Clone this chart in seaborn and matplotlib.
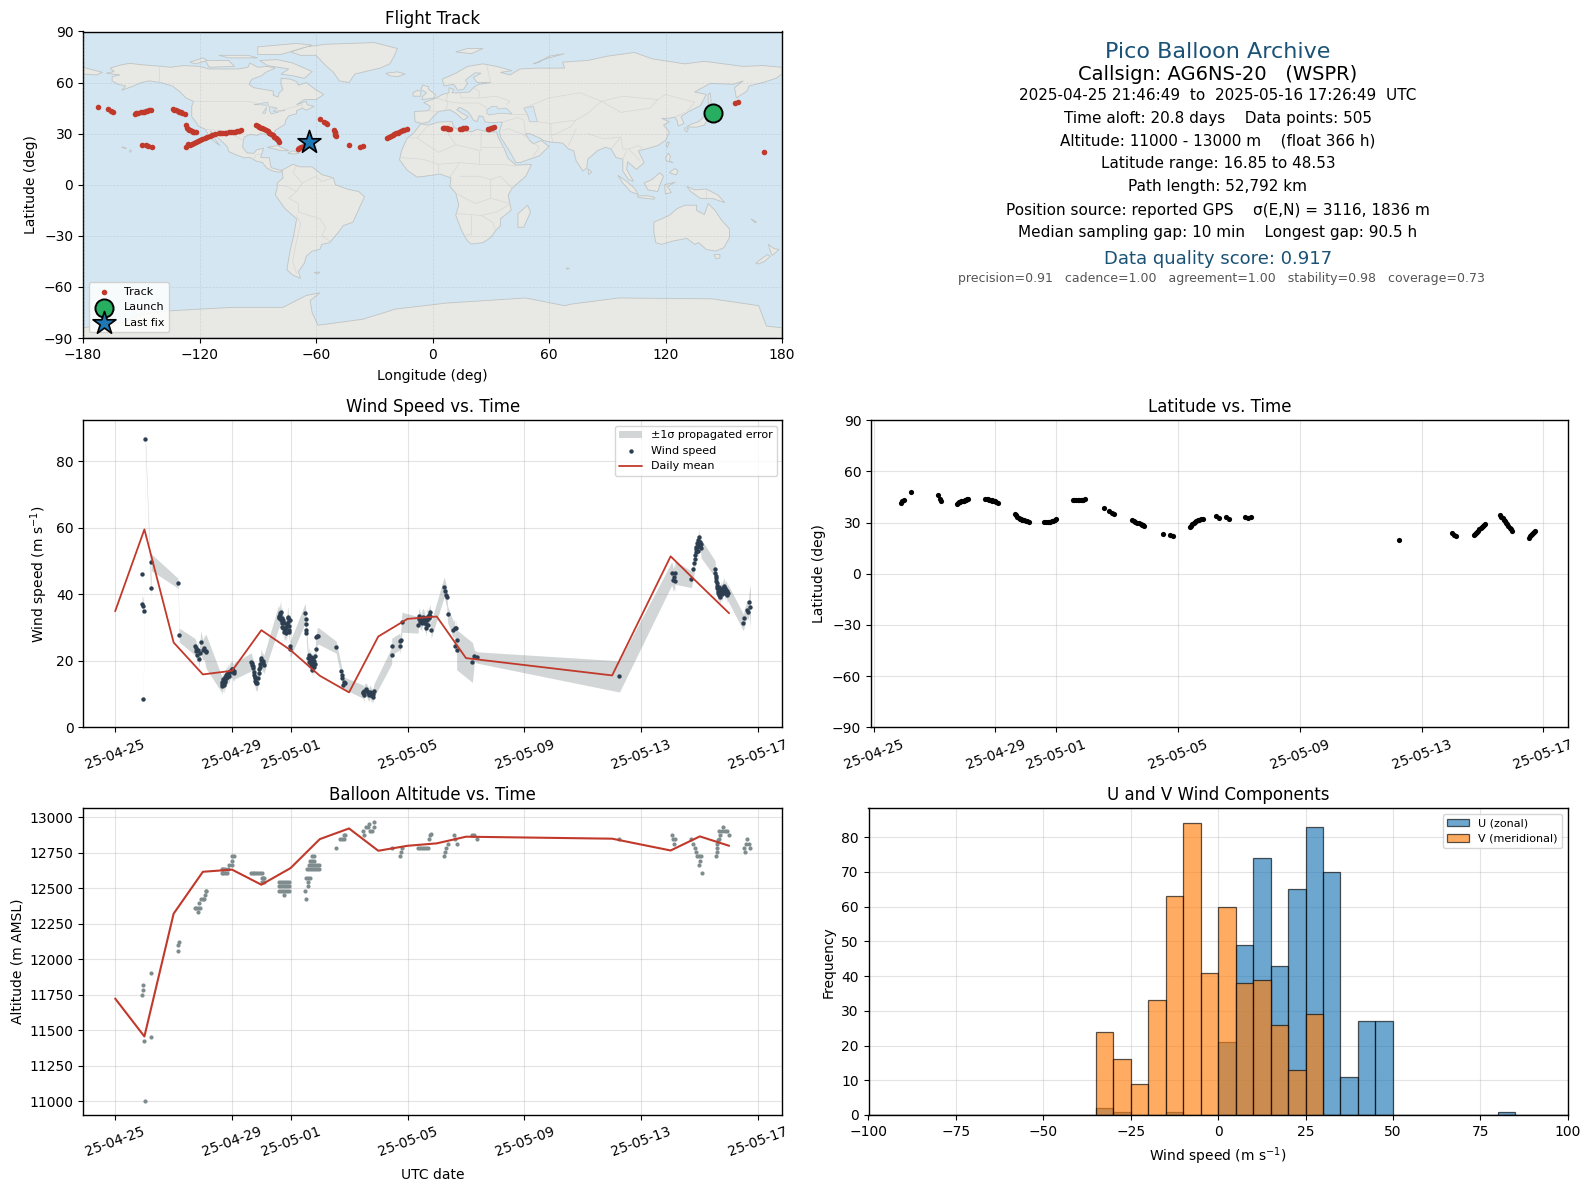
"""Pico balloon flight summary: track map, wind, latitude, altitude, U/V histogram."""
import matplotlib
matplotlib.use("Agg")
import matplotlib.dates as mdates
import matplotlib.pyplot as plt
import numpy as np
import pandas as pd
import seaborn as sns
from matplotlib.patches import Polygon

FIG_W, FIG_H = 1589, 1189
RED = "#c0392b"
NAVY = "#1a5276"
SLATE = "#2c3e50"
GREY = "#7f8c8d"
OCEAN = "#d4e6f1"
LAND = "#e8e8e4"
COAST = "#bfc4c4"

START = pd.Timestamp("2025-04-25")
tick_dates = pd.to_datetime(["2025-04-25", "2025-04-29", "2025-05-01", "2025-05-05",
                             "2025-05-09", "2025-05-13", "2025-05-17"])

# --- flight track (lon, lat)
track_lon = [-172.5, -166.9, -165.7, -164.8,
             -153.1, -151.9, -150.2, -148.5, -146.8, -145.1,
             -149.7, -147.6, -146.3, -144.7,
             -133.9, -132.2, -130.5, -128.8, -127.7,
             -126.7, -126.2, -125.3, -124.1, -122.7, -121.7,
             -126.7, -124.8, -122.7, -120.7, -118.5, -115.9, -113.6,
             -110.2, -108.2, -106.1, -103.9, -101.8, -99.9, -98.7,
             -91.0, -89.3, -87.6, -85.8, -84.1, -82.4, -80.7, -79.5, -79.0,
             -69.5, -67.8, -66.1, -64.4,
             -57.9, -55.8, -54.4, -50.6, -50.3, -49.8,
             -42.9, -37.4, -36.0,
             -23.2, -21.5, -19.7, -18.0, -16.3, -14.6, -12.9,
             5.5, 6.4, 7.6, 8.9, 14.4, 15.8, 17.5, 28.5, 29.9, 31.6,
             155.7, 157.4, 170.8,
             -125.7, -123.7, -121.7, -119.6, -117.2, -114.7, -112.0,
             -109.2, -107.1, -105.0, -102.8, -100.8,
             -90.1, -88.4, -86.7, -84.9, -83.2, -81.5, -80.1,
             -22.3, -20.6, -18.8, -17.1, -15.4,
             -152.5, -149.3, -147.6, -145.9,
             -133.0, -131.3, -129.6, -125.8, -124.7, -123.4,
             -68.6, -67.0, -65.2,
             -55.1, -50.4, -50.0,
             6.0, 8.2, 15.1, 16.6, 29.2, 30.8]
track_lat = [45.9, 44.3, 43.1, 42.7,
             41.8, 42.2, 42.5, 42.9, 43.3, 44.1,
             23.5, 23.1, 22.5, 22.4,
             44.3, 43.7, 42.9, 42.2, 41.6,
             35.1, 33.5, 32.4, 31.4, 31.0, 30.8,
             22.4, 23.1, 24.5, 25.7, 26.9, 28.0, 29.2,
             30.4, 30.4, 30.6, 30.8, 31.2, 31.8, 32.4,
             34.9, 34.1, 33.1, 32.0, 30.6, 29.0, 27.5, 26.1, 25.1,
             21.2, 22.0, 22.7, 23.7,
             38.8, 36.9, 35.9, 32.0, 30.4, 28.4,
             23.5, 22.4, 22.9,
             27.6, 28.8, 29.6, 30.6, 31.6, 32.2, 32.5,
             33.5, 33.5, 33.1, 32.9, 32.9, 33.1, 33.1, 32.7, 33.3, 33.7,
             48.2, 48.5, 19.4,
             23.8, 23.8, 25.1, 26.3, 27.4, 28.6, 29.7,
             30.4, 30.5, 30.7, 31.0, 31.5,
             34.5, 33.6, 32.6, 31.3, 29.8, 28.2, 26.8,
             28.2, 29.2, 30.1, 31.1, 31.9,
             42.0, 42.7, 43.1, 43.7,
             44.0, 43.3, 42.5, 33.0, 31.9, 31.2,
             21.6, 22.3, 23.2,
             36.4, 31.2, 29.4,
             33.4, 33.0, 33.0, 33.1, 33.0, 33.5]
launch_lon, launch_lat = [144.7], [42.0]
last_lon, last_lat = [-63.5], [25.3]

# --- wind speed samples: day since 04-25, m/s, propagated 1-sigma
wind_day = [0.92, 0.92, 0.96, 0.99, 0.96, 1.03, 1.24, 1.22, 2.15, 2.19,
            2.72, 2.75, 2.78, 2.81, 2.87, 2.93, 2.99, 3.05, 3.10, 3.12, 2.82, 2.89,
            3.64, 3.69, 3.72, 3.75, 3.78, 3.80, 3.86, 3.92, 3.98, 4.03, 4.08, 3.65, 3.71, 3.77, 3.83, 3.89,
            4.66, 4.68, 4.72, 4.75, 4.79, 4.81, 4.83, 4.88, 4.91, 4.95, 4.99, 5.04, 5.08, 4.98,
            5.59, 5.63, 5.66, 5.70, 5.72, 5.77, 5.80, 5.86, 5.90, 5.92, 5.95, 5.97, 5.65, 5.74, 5.83,
            5.98, 5.99,
            6.50, 6.53, 6.53, 6.53, 6.54,
            6.60, 6.63, 6.66, 6.71, 6.77, 6.79, 6.83, 6.86, 6.75, 6.69,
            6.86, 6.91, 6.95,
            7.56,
            7.73, 7.75, 7.77, 7.82, 7.86, 7.80,
            8.48, 8.50, 8.57, 8.65, 8.71, 8.76, 8.82, 8.85, 8.80,
            9.46, 9.46, 9.74, 9.74, 9.77, 9.81,
            10.36, 10.41, 10.45, 10.48, 10.53, 10.58, 10.62, 10.64, 10.69, 10.72, 10.76, 10.81, 10.66,
            11.25, 11.29, 11.32, 11.34, 11.37, 11.57, 11.61, 11.65, 11.68, 11.63, 11.68,
            12.22, 12.29, 12.37, 17.25,
            19.04, 19.09, 19.12, 19.15, 19.14,
            19.71, 19.78, 19.81, 19.83, 19.87, 19.89, 19.91, 19.95, 19.98, 20.01, 20.04, 19.87,
            20.52, 20.53, 20.55, 20.58, 20.60, 20.63, 20.67, 20.69, 20.72, 20.78, 20.83, 20.87, 20.92, 20.96, 20.64,
            21.49, 21.52, 21.60, 21.65, 21.69, 21.73,
            3.66, 3.68, 3.70, 3.73, 3.76, 3.79, 3.82, 3.84, 3.88, 3.94, 4.00, 4.05,
            4.67, 4.70, 4.74, 4.77, 4.80, 4.85, 4.93, 4.97, 5.02, 5.06,
            5.60, 5.62, 5.64, 5.68, 5.71, 5.75, 5.78, 5.82, 5.88, 5.91, 5.94, 5.96,
            6.62, 6.65, 6.68, 6.70, 6.73, 6.78, 6.81, 6.84, 6.74,
            8.49, 8.52, 8.62, 8.68, 8.74, 8.79, 8.83,
            10.38, 10.43, 10.50, 10.55, 10.60, 10.67, 10.70, 10.74, 10.78,
            19.85, 19.88, 19.92, 19.94, 19.97, 20.00, 20.03,
            20.54, 20.56, 20.59, 20.61, 20.65, 20.70, 20.74, 20.76, 20.80, 20.85, 20.90, 20.94]
wind_speed = [46.0, 37.0, 36.4, 34.9, 8.4, 86.6, 49.6, 41.8, 43.3, 27.7,
              24.3, 23.8, 22.8, 21.8, 20.5, 25.6, 23.3, 23.8, 23.0, 22.6, 23.3, 22.3,
              13.0, 13.7, 12.7, 14.2, 14.7, 15.7, 16.2, 16.7, 17.4, 16.7, 17.0, 13.5, 13.2, 13.6, 15.0, 15.5,
              19.7, 18.7, 17.7, 15.7, 14.7, 13.2, 13.7, 14.7, 16.4, 18.2, 20.7, 19.2, 18.8, 20.2,
              33.3, 34.3, 34.8, 32.8, 30.3, 31.3, 29.3, 28.5, 33.3, 31.8, 28.8, 32.3, 32.8, 32.3, 30.3,
              24.3, 23.5,
              34.3, 32.5, 31.0, 29.3, 28.3,
              20.8, 21.8, 19.7, 19.2, 20.8, 18.2, 21.3, 23.5, 17.2, 21.2,
              27.0, 27.3, 27.5,
              24.1,
              17.0, 15.7, 14.7, 13.7, 13.2, 12.7,
              10.7, 9.7, 11.4, 10.2, 10.7, 9.7, 9.2, 11.0, 10.4,
              24.3, 21.6, 24.3, 25.8, 26.3, 31.6,
              30.8, 33.5, 32.3, 31.3, 33.3, 32.0, 31.0, 29.8, 32.8, 33.8, 34.6, 29.3, 32.3,
              42.1, 41.0, 39.8, 39.3, 34.0, 29.3, 30.0, 30.0, 26.3, 24.5, 23.3,
              19.5, 21.5, 21.0, 15.3,
              46.3, 44.3, 45.3, 46.5, 44.0,
              44.5, 47.5, 49.3, 51.8, 52.8, 54.3, 55.3, 56.3, 57.3, 55.8, 53.8, 54.3,
              47.6, 46.3, 44.8, 43.3, 41.8, 40.3, 41.0, 39.3, 40.8, 41.3, 42.5, 41.8, 41.0, 40.5, 42.2,
              31.5, 32.8, 35.3, 34.8, 37.6, 36.3,
              12.3, 13.2, 14.4, 14.0, 15.0, 15.2, 16.0, 15.0, 16.5, 17.0, 17.5, 16.2,
              19.2, 18.3, 16.5, 15.2, 14.0, 13.3, 17.5, 19.0, 20.0, 19.8,
              32.8, 33.5, 33.8, 32.3, 31.5, 30.0, 28.8, 29.5, 31.0, 33.0, 30.5, 29.3,
              19.5, 20.8, 20.5, 18.7, 20.2, 19.3, 20.0, 19.0, 18.3,
              10.2, 10.8, 10.8, 9.8, 10.3, 9.6, 10.0,
              32.6, 31.8, 32.8, 33.0, 31.3, 33.3, 30.8, 33.0, 33.5,
              50.5, 53.5, 54.5, 53.0, 55.5, 54.5, 55.0,
              45.5, 44.0, 42.5, 41.0, 39.8, 40.3, 41.5, 40.2, 42.0, 40.5, 41.3, 39.8]
wind_sigma = [4.0, 3.0, 2.0, 2.0, 1.3, 2.0, 2.5, 2.5, 1.5, 2.1,
              2.5, 2.5, 2.5, 2.5, 2.5, 3.5, 3.0, 3.5, 5.0, 5.0, 2.5, 2.5,
              2.5, 2.5, 2.5, 2.5, 2.5, 2.5, 2.5, 2.5, 2.5, 2.5, 2.5, 2.5, 2.5, 2.5, 2.5, 2.5,
              2.7, 2.7, 2.7, 2.7, 2.5, 2.3, 2.3, 2.3, 2.5, 2.7, 2.7, 2.7, 2.7, 2.7,
              3.5, 3.5, 3.5, 3.5, 3.0, 3.0, 3.0, 3.0, 3.0, 3.0, 3.0, 3.0, 3.0, 3.0, 3.0,
              2.5, 2.5,
              3.0, 3.0, 3.0, 3.0, 2.5,
              2.5, 2.5, 2.5, 2.5, 2.5, 2.5, 2.5, 2.5, 2.5, 2.5,
              2.5, 2.5, 2.5,
              1.8,
              1.8, 1.8, 1.8, 1.8, 1.8, 1.8,
              2.0, 2.5, 2.0, 2.0, 2.0, 2.0, 2.0, 2.0, 2.0,
              2.5, 2.5, 2.5, 2.5, 2.5, 3.0,
              2.5, 2.5, 2.5, 2.5, 2.5, 2.5, 2.5, 2.5, 2.5, 2.5, 2.5, 2.5, 2.5,
              3.0, 3.0, 3.0, 3.0, 2.5, 2.5, 2.5, 2.5, 2.5, 3.0, 6.0,
              6.0, 1.7, 1.7, 4.7,
              3.5, 3.5, 3.5, 3.5, 3.5,
              2.5, 2.5, 2.5, 2.5, 2.5, 2.5, 2.5, 2.5, 2.5, 2.5, 2.8, 2.5,
              2.5, 2.5, 2.5, 2.5, 2.5, 2.5, 2.5, 2.5, 2.5, 2.5, 2.5, 2.5, 2.5, 2.5, 2.5,
              2.5, 2.5, 2.5, 2.5, 3.5, 6.5,
              2.5, 2.5, 2.5, 2.5, 2.5, 2.5, 2.5, 2.5, 2.5, 2.5, 2.5, 2.5,
              2.7, 2.7, 2.7, 2.7, 2.7, 2.7, 2.7, 2.7, 2.7, 2.7,
              3.0, 3.0, 3.0, 3.0, 3.0, 3.0, 3.0, 3.0, 3.0, 3.0, 3.0, 3.0,
              2.5, 2.5, 2.5, 2.5, 2.5, 2.5, 2.5, 2.5, 2.5,
              2.0, 2.0, 2.0, 2.0, 2.0, 2.0, 2.0,
              2.5, 2.5, 2.5, 2.5, 2.5, 2.5, 2.5, 2.5, 2.5,
              2.5, 2.5, 2.5, 2.5, 2.5, 2.5, 2.5,
              2.5, 2.5, 2.5, 2.5, 2.5, 2.5, 2.5, 2.5, 2.5, 2.5, 2.5, 2.5]

# --- daily means (days since 04-25)
mean_day = [0, 1, 2, 3, 4, 5, 6, 7, 8, 9, 10, 11, 12, 17, 19, 20, 21]
mean_wind = [34.9, 59.5, 25.5, 15.9, 17.0, 29.2, 23.2, 15.5, 10.5, 27.3, 32.6, 33.3, 20.8, 15.6, 51.4, 42.8, 34.3]
mean_alt = [11722, 11455, 12320, 12615, 12630, 12524, 12641, 12845, 12920, 12763, 12798, 12815, 12862,
            12848, 12765, 12864, 12798]

# --- latitude samples
lat_day = [0.89, 0.93, 0.99, 1.22, 2.12, 2.17, 2.20,
           2.73, 2.80, 2.88, 2.95, 3.03, 3.10,
           3.67, 3.75, 3.83, 3.90, 3.98, 4.07,
           4.65, 4.71, 4.80, 4.88, 4.95, 5.05, 5.09,
           5.60, 5.71, 5.80, 5.89, 5.98,
           6.54, 6.64, 6.75, 6.84, 6.93,
           7.55, 7.73, 7.82, 7.88,
           8.49, 8.60, 8.72, 8.81, 8.87,
           9.50, 9.74, 9.83,
           10.38, 10.47, 10.56, 10.65, 10.75, 10.81,
           11.25, 11.34, 11.58, 11.66,
           12.21, 12.30, 12.38,
           17.27,
           19.00, 19.08, 19.14,
           19.71, 19.79, 19.86, 19.94, 20.02, 20.08,
           20.57, 20.66, 20.74, 20.81, 20.89, 20.98,
           21.52, 21.60, 21.67, 21.74,
           2.76, 2.84, 2.92, 3.00, 3.07, 3.71, 3.79, 3.87, 3.94, 4.03,
           4.68, 4.76, 4.84, 4.92, 5.00, 5.65, 5.76, 5.85, 5.94,
           6.59, 6.70, 6.80, 6.89, 8.54, 8.66, 8.77, 8.84,
           10.42, 10.52, 10.60, 10.70, 19.75, 19.82, 19.90, 19.98, 20.05,
           20.61, 20.70, 20.78, 20.85, 20.94, 21.56, 21.63, 21.70]
lat_deg = [41.8, 42.4, 43.1, 48.0, 46.3, 43.9, 42.5,
           41.2, 42.0, 42.4, 42.9, 43.5, 43.9,
           43.9, 43.7, 43.3, 42.9, 42.4, 41.4,
           34.9, 33.5, 32.4, 31.8, 31.4, 30.8, 30.4,
           30.2, 30.2, 30.4, 31.0, 32.0,
           43.1, 43.1, 43.1, 43.3, 43.7,
           38.4, 36.9, 35.9, 35.1,
           31.4, 30.4, 29.6, 28.8, 28.0,
           23.5, 22.5, 22.4,
           27.3, 29.0, 30.4, 31.4, 32.2, 32.4,
           33.7, 32.7, 33.1, 32.4,
           33.1, 32.9, 33.5,
           19.6,
           23.7, 22.9, 22.2,
           22.5, 23.7, 25.3, 26.7, 28.2, 29.2,
           34.5, 32.5, 31.0, 29.0, 27.0, 25.3,
           21.2, 22.5, 23.7, 25.1,
           41.6, 42.2, 42.6, 43.2, 43.7, 43.8, 43.5, 43.1, 42.6, 41.9,
           34.2, 32.9, 32.1, 31.6, 31.1, 30.2, 30.3, 30.7, 31.5,
           43.1, 43.1, 43.2, 43.5, 30.9, 30.0, 29.2, 28.4,
           28.2, 29.7, 30.9, 31.8, 23.1, 24.5, 26.0, 27.4, 28.7,
           33.5, 31.7, 30.0, 28.0, 26.0, 21.9, 23.1, 24.4]

# --- altitude samples
alt_day = [1.03, 0.99, 1.23, 0.92, 0.94, 0.96, 1.23, 2.15, 2.15, 2.19,
           2.72, 2.78, 2.84, 2.89, 2.84, 2.87, 2.92, 2.99, 3.05, 3.08, 3.10, 3.12,
           3.64, 3.69, 3.75, 3.64, 3.69, 3.75, 3.81, 3.86, 3.90, 3.98, 4.01, 3.98, 4.06,
           4.63, 4.70, 4.76, 4.83, 4.90, 4.97, 5.01, 5.06, 5.01, 5.08, 5.01, 5.08,
           5.61, 5.68, 5.74, 5.81, 5.88, 5.95, 5.61, 5.68, 5.74, 5.81, 5.88, 5.95, 5.61, 5.68, 5.74, 5.81, 5.88, 5.95, 5.78,
           6.53, 6.51, 6.60, 6.60, 6.52, 6.59, 6.66,
           6.56, 6.63, 6.70, 6.77, 6.84, 6.91, 6.97, 6.63, 6.70, 6.77, 6.84, 6.91, 6.97, 6.68, 6.75, 6.81, 6.74, 6.80,
           7.56, 7.70, 7.77, 7.84, 7.82, 7.86,
           8.48, 8.50, 8.57, 8.64, 8.68, 8.73, 8.80, 8.85, 8.85,
           9.46, 9.74, 9.79, 9.82,
           10.36, 10.44, 10.51, 10.58, 10.64, 10.71, 10.74, 10.76, 10.80,
           11.26, 11.28, 11.32, 11.37, 11.60, 11.63, 11.69, 12.20, 12.28, 12.37, 17.25,
           19.03, 19.09, 19.15, 19.13,
           19.71, 19.78, 19.82, 19.86, 19.89, 19.96, 20.03, 20.01, 19.98, 20.06,
           20.54, 20.58, 20.59, 20.60, 20.61, 20.66, 20.69, 20.67, 20.75, 20.80, 20.86, 20.94, 20.99,
           21.51, 21.53, 21.59, 21.62, 21.67, 21.71]
alt_m = [11000, 11424, 11452, 11748, 11783, 11818, 11903, 12057, 12102, 12120,
         12360, 12360, 12360, 12360, 12332, 12395, 12423, 12423, 12423, 12451, 12479, 12479,
         12634, 12634, 12634, 12606, 12606, 12606, 12606, 12634, 12662, 12662, 12690, 12726, 12726,
         12606, 12606, 12606, 12606, 12606, 12606, 12606, 12570, 12570, 12570, 12543, 12543,
         12543, 12543, 12543, 12543, 12543, 12543, 12515, 12515, 12515, 12515, 12515, 12515, 12479, 12479, 12479, 12479, 12479, 12479, 12451,
         12423, 12479, 12515, 12543, 12570, 12570, 12570,
         12634, 12634, 12634, 12634, 12634, 12634, 12634, 12662, 12662, 12662, 12662, 12662, 12662, 12690, 12690, 12690, 12726, 12726,
         12782, 12845, 12845, 12845, 12873, 12873,
         12901, 12873, 12927, 12927, 12953, 12901, 12901, 12927, 12964,
         12782, 12726, 12754, 12782,
         12782, 12782, 12782, 12782, 12782, 12782, 12845, 12873, 12880,
         12726, 12754, 12782, 12810, 12873, 12845, 12810, 12873, 12873, 12845, 12845,
         12873, 12845, 12845, 12810,
         12845, 12810, 12782, 12754, 12726, 12726, 12726, 12690, 12662, 12606,
         12726, 12754, 12782, 12810, 12840, 12845, 12873, 12901, 12901, 12927, 12901, 12901, 12873,
         12782, 12754, 12810, 12845, 12810, 12782]

# --- U/V histogram, 5 m/s bins over -100..100
hist_centres = np.arange(-97.5, 100, 5)
bin_edges = list(np.arange(-100, 105, 5))
u_bins = {-32.5: 2, -27.5: 1, -12.5: 1, 2.5: 21, 7.5: 49, 12.5: 74, 17.5: 43, 22.5: 65, 27.5: 83,
          32.5: 70, 37.5: 11, 42.5: 27, 47.5: 27, 82.5: 1}
v_bins = {-32.5: 24, -27.5: 16, -22.5: 9, -17.5: 33, -12.5: 63, -7.5: 84, -2.5: 41, 2.5: 60,
          7.5: 38, 12.5: 39, 17.5: 26, 22.5: 13, 27.5: 29}
u_counts = [u_bins.get(c, 0) for c in hist_centres]
v_counts = [v_bins.get(c, 0) for c in hist_centres]

# --- coarse land outlines (lon, lat)
land_polys = {
    "north_america": [(-168, 65.5), (-164, 66.5), (-166, 68.5), (-160, 70.5), (-156, 71.3), (-150, 70.5), (-141, 69.7),
        (-135, 69), (-128, 70), (-120, 69.5), (-115, 68), (-108, 68), (-100, 68), (-95, 69), (-94, 71.5), (-90, 69),
        (-85, 69.5), (-81, 68.5), (-86, 66), (-88, 64), (-93, 62), (-94.5, 59), (-92, 57), (-87, 56), (-82, 55),
        (-82, 52.5), (-79.5, 51.5), (-79, 54), (-77, 56), (-78, 59), (-78, 62.5), (-73, 62), (-70, 60.5), (-69, 58.5),
        (-65, 60), (-61, 56.5), (-56, 53), (-60, 50), (-66, 50), (-70, 47), (-65, 49), (-64.5, 47), (-61, 46),
        (-65, 43.7), (-67, 45), (-70, 43.5), (-70, 41.7), (-74, 40.5), (-75.5, 38), (-76, 35.5), (-78, 34), (-81, 32),
        (-81.5, 30), (-80, 26.5), (-80.5, 25), (-82, 27), (-83, 29), (-85, 29.7), (-89, 30), (-90, 29), (-94, 29.5),
        (-97, 28), (-97.5, 25), (-97.8, 22), (-95.5, 18.7), (-92, 18.5), (-90.5, 20.5), (-87, 21.5), (-88, 18),
        (-88.5, 16), (-84, 15.8), (-83.5, 12), (-83, 10), (-80, 9), (-77.5, 8.5), (-78, 7.5), (-80, 7.5), (-83, 8.3),
        (-85.5, 10), (-87.5, 13), (-91, 14), (-94, 16), (-97, 15.8), (-101, 17.5), (-105, 19.5), (-105.5, 22),
        (-108, 25), (-110, 27), (-112.5, 30), (-114.5, 31.5), (-113, 28.5), (-111, 25), (-109.5, 23), (-112, 25),
        (-115, 28.5), (-117, 32.5), (-120.5, 34.5), (-122, 37), (-124, 40), (-124, 46), (-123, 49), (-127, 51),
        (-130, 54.5), (-134, 58), (-140, 60), (-146, 61), (-150, 60), (-154, 58), (-160, 55.5), (-158, 58), (-162, 59),
        (-165, 61), (-165, 63.5), (-161, 64.5)],
    "greenland": [(-73, 78), (-68, 76), (-60, 76), (-55, 70), (-51, 66), (-48, 61), (-43, 60), (-40, 65), (-27, 68.5),
        (-22, 71), (-20, 75), (-18, 80), (-30, 83.5), (-55, 82.5), (-65, 81)],
    "baffin": [(-80, 73.5), (-72, 71.5), (-62, 66.5), (-66, 62.5), (-72, 64), (-78, 65), (-74, 68), (-85, 70), (-89, 73)],
    "victoria": [(-117, 73), (-105, 73), (-102, 69.5), (-115, 69)],
    "banks": [(-125, 72), (-118, 74.5), (-116, 73), (-122, 71)],
    "ellesmere": [(-90, 76.5), (-78, 76.5), (-62, 82), (-70, 83), (-90, 81)],
    "devon": [(-110, 76), (-95, 76), (-90, 74.5), (-105, 74.5)],
    "south_america": [(-77.5, 8.5), (-72, 12), (-68, 10.5), (-62, 10.5), (-57, 6), (-51, 4), (-50, 0), (-44, -2.5),
        (-38, -4), (-35, -7), (-37, -12), (-39, -17), (-41, -22), (-46, -24), (-48.5, -28), (-53, -34), (-57, -35),
        (-58, -38), (-62, -39), (-65, -42), (-66, -46), (-69, -51), (-68, -55), (-72, -53), (-75, -50), (-74, -43),
        (-73, -37), (-71.5, -30), (-70, -20), (-76, -14), (-81, -6), (-80, -2), (-80, 1), (-77, 4)],
    "africa": [(-6, 35.8), (-2, 35), (3, 36.8), (10, 37.2), (11, 33.5), (15, 32.3), (20, 31), (23, 32.5), (29, 31),
        (33, 31), (34, 27.5), (37, 21), (39, 15.5), (43, 11.5), (51, 12), (48, 5), (41, -2), (39, -6), (40.5, -15),
        (35, -20), (35, -24), (32.5, -27), (30, -31), (26, -34), (20, -34.8), (18, -33), (15, -27), (12, -18),
        (13.5, -12), (12, -5), (9, -1), (9.5, 4), (5, 5.8), (4, 6.3), (-4, 5), (-8, 4.5), (-13, 8.5), (-17, 14.7),
        (-16, 20), (-13, 27.5), (-10, 30)],
    "eurasia": [(-9, 37), (-9.3, 43), (-2, 43.5), (-1, 46), (-4.5, 48.3), (2, 51), (5, 53), (8.5, 54), (8.5, 57),
        (11, 56), (10, 54), (14, 54), (19, 54.5), (21, 57), (24, 59), (30, 60), (23, 60), (21, 63), (25, 65.5),
        (22, 65.8), (17, 61.5), (18, 59.5), (16, 56), (13, 55.5), (11, 59), (6, 58), (5, 62), (12, 65.5), (18, 69.5),
        (26, 71), (33, 69.5), (41, 67), (35, 66), (40, 64.5), (45, 68), (54, 68.5), (68, 68.5), (67, 72), (73, 72.5),
        (80, 73), (90, 75.5), (104, 77.7), (113, 74), (130, 71), (140, 72.5), (160, 69.5), (170, 70), (180, 69),
        (180, 65), (177, 62.5), (170, 60), (163, 58), (162, 55), (156.5, 51), (155.5, 57), (160, 61), (155, 59),
        (143, 59.5), (135, 54.5), (141, 53), (138, 46.5), (132, 43), (128, 40), (129.5, 36), (126.5, 34.5),
        (126, 37.5), (125, 39.7), (121.5, 39), (118, 39), (122, 37), (119, 35), (122, 31), (120, 26), (116, 23),
        (110, 21), (106, 20), (109, 13), (105, 9), (100.5, 13.5), (100, 9), (103.5, 2), (101, 3), (98, 8), (98, 15),
        (94.5, 16), (92, 21), (89, 22), (85, 20), (80, 15), (79.5, 10), (77.5, 8), (74, 14), (72.7, 20), (70, 21),
        (67, 24.5), (61, 25), (57, 26), (56, 27), (50, 30), (48, 30), (50, 26), (52, 24), (56, 26), (60, 22.5),
        (55, 17), (45, 13), (43, 13), (39, 21), (35, 28), (34.5, 31.5), (35.5, 35), (36, 36.8), (30, 36.5), (27, 37),
        (26, 40), (24, 40.5), (23, 37), (21, 38), (19.5, 41), (18, 43), (14, 45.5), (12.5, 44), (16, 41.5), (18.5, 40),
        (16, 38), (12, 42), (9, 44), (3, 43), (0, 39.5), (-2, 36.8), (-5.5, 36)],
    "chukotka": [(-180, 69), (-175, 67.5), (-170, 66), (-173, 64.5), (-180, 65)],
    "britain": [(-5.5, 50), (1, 51), (1.5, 53), (-2, 56), (-2, 57.5), (-5, 58.5), (-6, 56), (-3, 54), (-5, 52)],
    "ireland": [(-10, 52), (-6, 52), (-6, 55), (-8, 55.3), (-10, 54)],
    "iceland": [(-24, 65.5), (-18, 66.3), (-14, 65), (-18, 63.5), (-22, 64)],
    "svalbard": [(12, 78), (18, 80), (26, 80), (20, 77)],
    "novaya": [(52, 71), (57, 73.5), (68, 77), (60, 75.5), (55, 72)],
    "honshu": [(131, 34), (136, 33.8), (140, 35), (141.5, 38), (141, 41), (139.8, 40), (137, 37), (133, 35.5)],
    "hokkaido": [(140, 42), (143, 42), (145.5, 43.5), (142, 45.5), (141, 43.5)],
    "kyushu": [(130, 33.5), (131.8, 33), (131, 31), (130, 32)],
    "sakhalin": [(142, 46), (143.5, 49), (143, 54), (142, 53), (142, 49)],
    "taiwan": [(120.2, 23), (121, 22), (122, 25), (121, 25)],
    "luzon": [(120, 16), (121.5, 18.5), (122.5, 17), (122, 14), (124, 12.8), (120.5, 14)],
    "mindanao": [(122, 7), (125.5, 5.8), (126.5, 8), (125, 9.5), (123.5, 8.5)],
    "borneo": [(109, 1), (113, 3), (117, 7), (119, 5), (117.5, 1), (116, -4), (111, -3)],
    "sumatra": [(95.5, 5.5), (100, 2), (104, -2), (106, -5.8), (102, -4), (98, 1)],
    "java": [(105.5, -6.5), (111, -6.5), (114.5, -7.5), (114, -8.5), (106, -7.5)],
    "sulawesi": [(119.5, 0), (125, 1.5), (121, -1), (123, -4.5), (120, -5.5)],
    "new_guinea": [(131, -1), (135, -3), (141, -2.5), (147, -6), (150.5, -10.5), (144, -8), (138, -8), (133, -4)],
    "australia": [(114, -22), (122, -18), (126, -14), (130, -12), (136, -12), (136, -15), (140, -17.5), (142, -11),
        (145.5, -15), (149, -21), (153, -26), (153, -31), (150, -37), (146, -39), (141, -38), (137, -34), (135, -35),
        (131, -31.5), (124, -33), (118, -35), (115, -34), (114, -28)],
    "tasmania": [(145, -41), (148, -41), (148, -43), (146, -43.5)],
    "nz_north": [(173, -35), (176, -37.5), (178.5, -38), (175, -41.5), (174, -39)],
    "nz_south": [(172.5, -41), (174, -42), (171, -45), (168, -46.5), (166.5, -46), (170, -43)],
    "madagascar": [(49, -12), (50.5, -16), (47, -25), (44, -25), (44, -17)],
    "sri_lanka": [(80, 9.5), (82, 7.5), (80.5, 6)],
    "cuba": [(-85, 22), (-80, 23), (-74, 20), (-78, 20)],
    "hispaniola": [(-74.5, 18.5), (-72, 20), (-68.5, 18.5), (-71.5, 18)],
    "hawaii": [(-156, 20.5), (-155, 19.8), (-155.6, 19), (-156, 19.6)],
    "oahu_kauai": [(-160, 22.2), (-157.7, 21.5), (-158, 21.3), (-159.8, 21.9)],
    "falklands": [(-61, -51.5), (-58, -51.3), (-59, -52.3)],
    "kerguelen": [(68.8, -49), (70.5, -49), (69.5, -49.7)],
    "new_caledonia": [(164, -20), (167, -22), (166, -22.2)],
    "antarctica": [(-180, -84), (-160, -81), (-150, -76), (-135, -74), (-103, -72), (-77, -72), (-65, -65),
        (-58, -63.5), (-63, -68), (-62, -75), (-59, -82.5), (-36, -79), (-19, -73), (7, -69.5), (48, -66.5), (68, -71),
        (72, -70), (96, -66.5), (144, -67), (168, -71), (172, -83), (180, -84), (180, -90), (-180, -90)],
}
sea_polys = {
    "black_sea": [(28, 42), (29, 41), (35, 42), (41, 41.5), (38, 45), (34, 44.5), (33, 46), (30.5, 46), (28, 44)],
    "caspian": [(47, 45), (52, 46), (53, 41), (54, 37), (50, 37), (49, 41)],
    "superior": [(-92, 47), (-85, 48.5), (-84.5, 46.5), (-88, 47)],
    "michigan": [(-87.5, 42), (-85.5, 45.5), (-86, 42)],
    "huron_erie": [(-84, 46), (-80, 45), (-82, 43), (-79, 42.8), (-83, 41.5), (-84, 43.5)],
    "ontario": [(-79.5, 43.3), (-76, 44), (-76.5, 43.4)],
}
borders = [
    [(-141, 69.7), (-141, 60)], [(-123, 49), (-95, 49), (-84, 46), (-79, 43), (-74, 45), (-67, 47), (-67, 45)],
    [(-117, 32.5), (-106, 31.5), (-97.5, 26)], [(-92, 14.5), (-91, 17.5), (-89, 18)],
    [(-70, 11), (-72, 7), (-67, 1), (-70, -4), (-74, -8), (-69, -11), (-69, -16), (-58, -20), (-55, -25), (-57, -30), (-53, -33)],
    [(-80, 0), (-75, -1), (-70, -4)], [(-70, -18), (-68, -23), (-70, -33), (-72, -45), (-70, -52)], [(-67, 1), (-60, 5), (-57, 2), (-51, 4)],
    [(-13, 27.5), (-8, 27.5), (3, 19), (12, 23.5), (25, 20), (25, 31)], [(25, 22), (37, 22)], [(-17, 16), (-5, 15), (3, 12), (14, 13), (24, 12), (35, 12), (43, 11)],
    [(3, 12), (3, 6.5)], [(14, 13), (9, 4.5)], [(24, 12), (24, 20)], [(-8, 27.5), (-2, 35)], [(9, 37), (8, 30), (12, 23.5)],
    [(12, -5), (22, -11), (30, -8), (30, 3), (35, 5), (41, -2)], [(12, -17), (25, -18), (33, -16), (40.5, -11)], [(20, -18), (20, -29), (17, -29)],
    [(30, -8), (40, -11)], [(25, -18), (31, -22), (32.5, -27)], [(14, 5), (24, 5), (30, 3)],
    [(3, 43), (-2, 43.5)], [(2, 51), (8, 49), (7, 44)], [(8, 54), (7, 49), (13, 48), (17, 48), (24, 48), (28, 45)], [(14, 54), (15, 51), (24, 51), (24, 55), (21, 57)],
    [(28, 70), (30, 60)], [(24, 51), (33, 52), (40, 49), (38, 47)], [(41, 41.5), (48, 41.5)], [(48, 30), (47, 38), (44, 39.5), (36, 36.8)], [(36, 32), (39, 33), (48, 29)],
    [(47, 45), (60, 51), (76, 54), (87, 49), (98, 52), (116, 50), (120, 53), (135, 48.5), (131, 43)], [(87, 49), (80, 42), (74, 38), (61, 36), (54, 37)], [(87, 49), (97, 42.5), (112, 45), (116, 50)],
    [(61, 36), (61, 30), (62, 25)], [(74, 38), (71, 34), (62, 29)], [(74, 33), (70, 23)], [(80, 30), (88, 27), (97, 28), (92, 21)], [(97, 28), (98, 21), (101, 21), (106, 23), (108, 21.5)],
    [(98, 15), (100, 20)], [(101, 21), (107, 14)], [(125, 39.7), (130, 42.5)], [(141, -2.5), (141, -9)], [(47, 29), (55, 22), (52, 17)],
]

sns.set_theme(style="ticks", rc={"font.family": "DejaVu Sans", "axes.edgecolor": "black", "axes.linewidth": 1.0,
                                 "xtick.color": "black", "ytick.color": "black", "text.color": "black",
                                 "axes.labelcolor": "black"})


def days_to_time(days):
    return START + pd.to_timedelta(np.asarray(days, dtype=float), unit="D")


def px_axes(fig, left, top, right, bottom):
    return fig.add_axes([left / FIG_W, 1 - bottom / FIG_H, (right - left) / FIG_W, (bottom - top) / FIG_H])


def style_grid(ax):
    ax.grid(True, color="#b0b0b0", alpha=0.35, linewidth=0.8)
    ax.set_axisbelow(True)


def style_time_axis(ax, xlim_days):
    ax.set_xlim(START + pd.Timedelta(days=xlim_days[0]), START + pd.Timedelta(days=xlim_days[1]))
    ax.set_xticks(tick_dates)
    ax.xaxis.set_major_formatter(mdates.DateFormatter("%y-%m-%d"))
    ax.tick_params(axis="x", labelrotation=20)
    style_grid(ax)


fig = plt.figure(figsize=(FIG_W / 100, FIG_H / 100), dpi=100)

# flight track
ax_map = px_axes(fig, 83, 31.5, 782, 338)
ax_map.set_facecolor(OCEAN)
for pts in land_polys.values():
    ax_map.add_patch(Polygon(pts, closed=True, facecolor=LAND, edgecolor=COAST, linewidth=0.6, zorder=1))
for pts in sea_polys.values():
    ax_map.add_patch(Polygon(pts, closed=True, facecolor=OCEAN, edgecolor=COAST, linewidth=0.5, zorder=1.1))
for line in borders:
    xs, ys = zip(*line)
    ax_map.plot(xs, ys, color="#d6d8d6", linewidth=0.5, zorder=1.2)
ax_map.grid(True, color="#8a9aa5", alpha=0.25, linewidth=0.5, linestyle="--", zorder=1.5)
ax_map.set_axisbelow(False)
sns.scatterplot(x=track_lon, y=track_lat, ax=ax_map, color=RED, s=16, linewidth=0, label="Track", zorder=3)
sns.scatterplot(x=launch_lon, y=launch_lat, ax=ax_map, color="#27ae60", s=170, edgecolor="black", linewidth=1.4,
                label="Launch", zorder=4)
sns.scatterplot(x=last_lon, y=last_lat, ax=ax_map, color="#1f77b4", marker="*", s=300, edgecolor="black", linewidth=1.2,
                label="Last fix", zorder=5)
ax_map.set_xlim(-180, 180)
ax_map.set_ylim(-90, 90)
ax_map.set_xticks(np.arange(-180, 181, 60))
ax_map.set_yticks(np.arange(-90, 91, 30))
ax_map.set_xlabel("Longitude (deg)", fontsize=10, labelpad=5.5)
ax_map.set_ylabel("Latitude (deg)", fontsize=10)
ax_map.set_title("Flight Track", fontsize=12, pad=5.5)
ax_map.legend(loc="lower left", fontsize=8, framealpha=0.85, borderpad=0.4, labelspacing=0.5, handletextpad=0.8)

# summary text
info_lines = [
    ("Pico Balloon Archive", 52.5, 16, NAVY, 1218),
    ("Callsign: AG6NS-20   (WSPR)", 75, 14, "black", 1218),
    ("2025-04-25 21:46:49  to  2025-05-16 17:26:49  UTC", 95, 11, "black", 1218),
    ("Time aloft: 20.8 days    Data points: 505", 118, 11, "black", 1218),
    ("Altitude: 11000 - 13000 m    (float 366 h)", 141, 11, "black", 1218),
    ("Latitude range: 16.85 to 48.53", 163.5, 11, "black", 1218),
    ("Path length: 52,792 km", 186.5, 11, "black", 1218),
    ("Position source: reported GPS    σ(E,N) = 3116, 1836 m", 210, 11, "black", 1218),
    ("Median sampling gap: 10 min    Longest gap: 90.5 h", 233, 11, "black", 1218),
    ("Data quality score: 0.917", 259.5, 13, NAVY, 1218),
    ("precision=0.91   cadence=1.00   agreement=1.00   stability=0.98   coverage=0.73", 278.5, 9, "#555555", 1221),
]
for text, y_px, size, color, x_px in info_lines:
    fig.text(x_px / FIG_W, 1 - y_px / FIG_H, text, ha="center", va="center", fontsize=size, color=color)

# wind speed
wind_df = pd.DataFrame({"time": days_to_time(wind_day), "speed": wind_speed, "sigma": wind_sigma}).sort_values("time")
mean_time = days_to_time(mean_day)
ax_wind = px_axes(fig, 83.3, 420.3, 782.3, 727.3)
ax_wind.fill_between(wind_df["time"], wind_df["speed"] - wind_df["sigma"], wind_df["speed"] + wind_df["sigma"],
                     color=GREY, alpha=0.35, linewidth=0, label="±1σ propagated error")
sns.scatterplot(data=wind_df, x="time", y="speed", ax=ax_wind, color=SLATE, s=10, linewidth=0, label="Wind speed", zorder=3)
sns.lineplot(x=mean_time, y=mean_wind, ax=ax_wind, color=RED, linewidth=1.3, label="Daily mean", zorder=4)
style_time_axis(ax_wind, (-1.09, 22.82))
ax_wind.set_ylim(0, 92.3)
ax_wind.set_title("Wind Speed vs. Time", fontsize=12)
ax_wind.set_xlabel("")
ax_wind.set_ylabel("Wind speed (m s$^{-1}$)", fontsize=10)
ax_wind.legend(loc="upper right", fontsize=8)

# latitude
ax_lat = px_axes(fig, 871, 420.3, 1567.7, 727.3)
sns.scatterplot(x=days_to_time(lat_day), y=lat_deg, ax=ax_lat, color="black", s=14, linewidth=0)
style_time_axis(ax_lat, (-0.09, 22.8))
ax_lat.set_ylim(-90, 90)
ax_lat.set_yticks(np.arange(-90, 91, 30))
ax_lat.set_title("Latitude vs. Time", fontsize=12)
ax_lat.set_xlabel("")
ax_lat.set_ylabel("Latitude (deg)", fontsize=10)

# altitude
ax_alt = px_axes(fig, 83.3, 808.3, 782.3, 1115)
sns.scatterplot(x=days_to_time(alt_day), y=alt_m, ax=ax_alt, color=GREY, s=9, linewidth=0)
sns.lineplot(x=mean_time, y=mean_alt, ax=ax_alt, color=RED, linewidth=1.5, zorder=4)
style_time_axis(ax_alt, (-1.09, 22.82))
ax_alt.set_ylim(10902, 13062)
ax_alt.set_yticks(np.arange(11000, 13001, 250))
ax_alt.set_title("Balloon Altitude vs. Time", fontsize=12)
ax_alt.set_xlabel("UTC date", fontsize=10, labelpad=6)
ax_alt.set_ylabel("Altitude (m AMSL)", fontsize=10)

# U/V histogram
ax_hist = px_axes(fig, 868.5, 808.3, 1567.7, 1115)
sns.histplot(x=hist_centres, weights=u_counts, bins=bin_edges, ax=ax_hist, color="#1f77b4", alpha=0.65,
             edgecolor=(0, 0, 0, 0.65), linewidth=0.9, label="U (zonal)")
sns.histplot(x=hist_centres, weights=v_counts, bins=bin_edges, ax=ax_hist, color="#ff7f0e", alpha=0.65,
             edgecolor=(0, 0, 0, 0.65), linewidth=0.9, label="V (meridional)")
ax_hist.set_xlim(-100, 100)
ax_hist.set_ylim(0, 88.3)
ax_hist.set_yticks(np.arange(0, 81, 10))
style_grid(ax_hist)
ax_hist.set_title("U and V Wind Components", fontsize=12)
ax_hist.set_xlabel("Wind speed (m s$^{-1}$)", fontsize=10, labelpad=4.8)
ax_hist.set_ylabel("Frequency", fontsize=10)
ax_hist.legend(loc="upper right", fontsize=8)

for ax in (ax_map, ax_wind, ax_lat, ax_alt, ax_hist):
    ax.tick_params(labelsize=10, length=3.5, width=0.8)
    for spine in ax.spines.values():
        spine.set_linewidth(1.0)

fig.savefig("out.png", dpi=100)
plt.close(fig)
